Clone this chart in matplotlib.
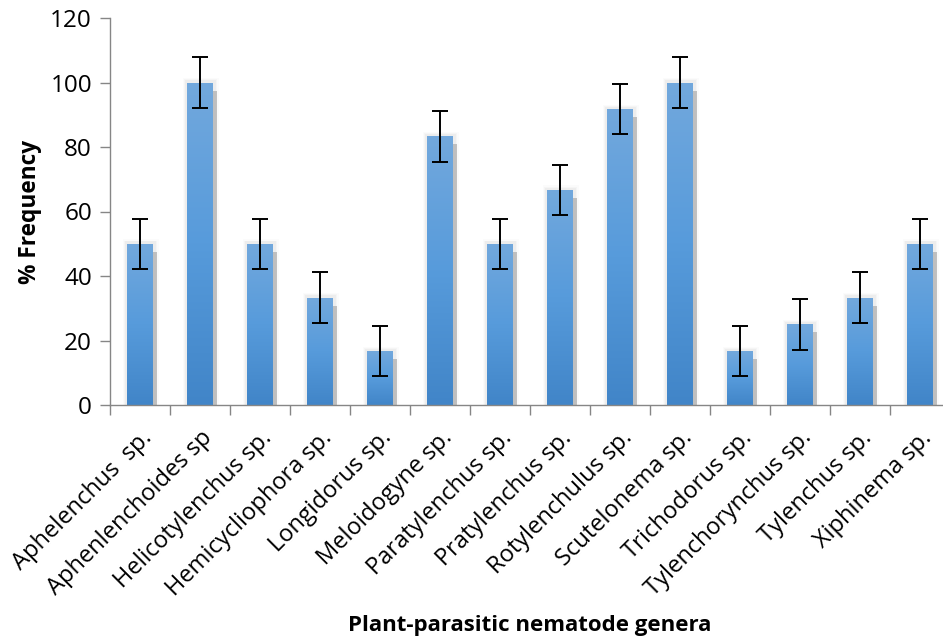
import matplotlib
matplotlib.use("Agg")
import matplotlib.pyplot as plt
import numpy as np
from matplotlib.patches import Rectangle
from matplotlib.colors import LinearSegmentedColormap

categories = ["Aphelenchus  sp.", "Aphenlenchoides sp", "Helicotylenchus sp.",
              "Hemicycliophora sp.", "Longidorus sp.", "Meloidogyne sp.",
              "Paratylenchus sp.", "Pratylenchus sp.", "Rotylenchulus sp.",
              "Scutelonema sp.", "Trichodorus sp.", "Tylenchorynchus sp.",
              "Tylenchus sp.", "Xiphinema sp."]
values = [50, 100, 50, 33.3, 16.7, 83.3, 50, 66.7, 91.7, 100, 16.7, 25, 33.3, 50]
errors = [7.8] * 14
yticks = [0, 20, 40, 60, 80, 100, 120]

plt.rcParams['font.family'] = ['Open Sans', 'DejaVu Sans']

fig = plt.figure(figsize=(9.43, 6.41), dpi=100)
ax = fig.add_axes([110/943, 236/641, 840/943, 387/641])

x = np.arange(len(categories))
w = 0.42
ax.set_xlim(-0.5, len(categories) - 0.5)
ax.set_ylim(0, 120)

grad = np.linspace(0, 1, 256).reshape(-1, 1)
cmap = LinearSegmentedColormap.from_list("b", ["#4185c8", "#579bdb", "#72a8dd"])

for xi, v in zip(x, values):
    # soft glow
    for k, a in [(0.14, 0.04), (0.10, 0.06), (0.07, 0.08)]:
        ax.add_patch(Rectangle((xi - w/2 - k*0.5, 0), w + k*1.3, v + k*10,
                               facecolor="#9a9a9a", alpha=a, edgecolor="none", zorder=1))
    # shadow
    ax.add_patch(Rectangle((xi - w/2 + 0.07, 0), w, v - 2.5,
                           facecolor="#b0b0b0", alpha=0.75, edgecolor="none", zorder=1.5))
    bar = Rectangle((xi - w/2, 0), w, v, facecolor="#5b9bd5", edgecolor="none", zorder=2)
    ax.add_patch(bar)
    im = ax.imshow(grad, cmap=cmap, aspect="auto", origin="lower",
                   extent=(xi - w/2, xi + w/2, 0, v), zorder=2.5)
    im.set_clip_path(bar)

ax.errorbar(x, values, yerr=errors, fmt="none", ecolor="black",
            elinewidth=1.4, capsize=6, capthick=1.4, zorder=4)

ax.set_xlim(-0.5, len(categories) - 0.5)
ax.set_ylim(0, 120)

ax.set_xticks(np.arange(len(categories) + 1) - 0.5)
ax.set_xticklabels([])
ax.set_xticks(x, minor=True)
ax.set_xticklabels(categories, minor=True, rotation=45, ha="right",
                   rotation_mode="anchor", fontsize=17)
ax.tick_params(axis="x", which="minor", length=0, pad=15)
ax.tick_params(axis="x", which="major", length=7, color="#868686", width=1)

ax.set_yticks(yticks)
ax.set_yticklabels([str(t) for t in yticks], fontsize=17.5)
ax.tick_params(axis="y", length=7, color="#868686", width=1, pad=6)

for s in ["top", "right"]:
    ax.spines[s].set_visible(False)
for s in ["left", "bottom"]:
    ax.spines[s].set_color("#868686")
    ax.spines[s].set_linewidth(1)

ax.set_ylabel("% Frequency", fontsize=16.3, fontweight="bold", labelpad=6)
fig.text(530/943, 1 - 626/641, "Plant-parasitic nematode genera", fontsize=16,
         fontweight="bold", ha="center", va="center")

fig.savefig("out.png", dpi=100)
